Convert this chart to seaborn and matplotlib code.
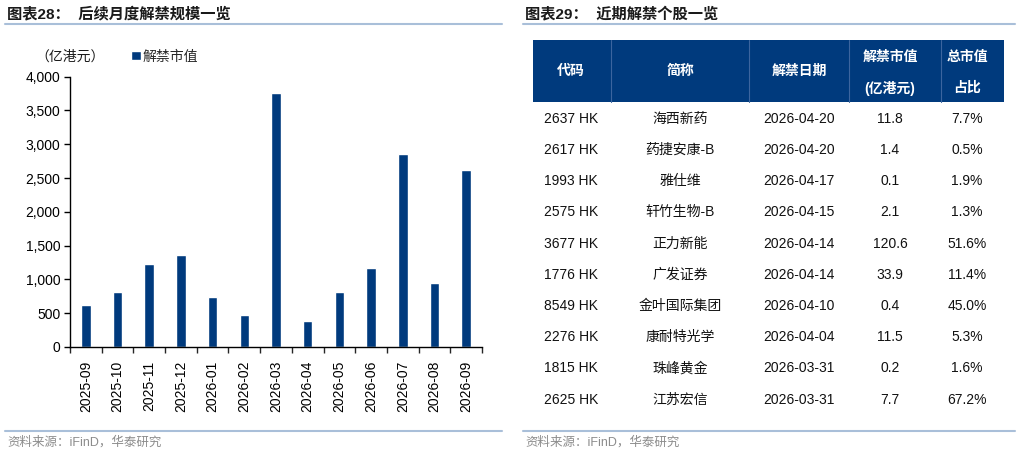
import numpy as np
import pandas as pd
import matplotlib
matplotlib.use("Agg")
import matplotlib.pyplot as plt
import seaborn as sns
from matplotlib.patches import Rectangle
from matplotlib.lines import Line2D

sns.set_theme(style="white")
plt.rcParams['font.family'] = ['Liberation Sans', 'Noto Sans CJK SC', 'DejaVu Sans']

# ---- data: monthly unlock scale ----
months = ['2025-09', '2025-10', '2025-11', '2025-12', '2026-01', '2026-02', '2026-03',
          '2026-04', '2026-05', '2026-06', '2026-07', '2026-08', '2026-09']
unlock_value = [627, 820, 1223, 1367, 745, 469, 3757, 380, 814, 1164, 2861, 952, 2624]

# ---- data: recent unlock stocks ----
codes = ['2637 HK', '2617 HK', '1993 HK', '2575 HK', '3677 HK',
         '1776 HK', '8549 HK', '2276 HK', '1815 HK', '2625 HK']
names = ['海西新药', '药捷安康-B', '雅仕维', '轩竹生物-B', '正力新能',
         '广发证券', '金叶国际集团', '康耐特光学', '珠峰黄金', '江苏宏信']
dates = ['2026-04-20', '2026-04-20', '2026-04-17', '2026-04-15', '2026-04-14',
         '2026-04-14', '2026-04-10', '2026-04-04', '2026-03-31', '2026-03-31']
unlock_mv = ['11.8', '1.4', '0.1', '2.1', '120.6', '33.9', '0.4', '11.5', '0.2', '7.7']
mv_share = ['7.7%', '0.5%', '1.9%', '1.3%', '51.6%', '11.4%', '45.0%', '5.3%', '1.6%', '67.2%']
headers = ['代码', '简称', '解禁日期', '解禁市值\n(亿港元)', '总市值\n占比']

NAVY = '#003A7D'
RULE = '#A9BFD9'
W, H = 1020, 455

fig = plt.figure(figsize=(W / 100, H / 100), dpi=100)


def fx(px):
    return px / W


def fy(py):
    return 1 - py / H


# titles, rules, footers
fig.text(fx(7), fy(14), '图表28：  后续月度解禁规模一览', fontsize=11, fontweight='bold',
         color='#1a1a1a', va='center', ha='left')
fig.text(fx(525), fy(14), '图表29：  近期解禁个股一览', fontsize=11, fontweight='bold',
         color='#1a1a1a', va='center', ha='left')
for x0, x1 in [(5, 502), (523, 1015)]:
    fig.add_artist(Line2D([fx(x0), fx(x1)], [fy(24), fy(24)], color=RULE, lw=1.5))
    fig.add_artist(Line2D([fx(x0), fx(x1)], [fy(431), fy(431)], color=RULE, lw=1.5))
fig.text(fx(7), fy(442), '资料来源：iFinD，华泰研究', fontsize=9, color='#8c8c8c',
         va='center', ha='left')
fig.text(fx(525), fy(442), '资料来源：iFinD，华泰研究', fontsize=9, color='#8c8c8c',
         va='center', ha='left')

# ---- left: bar chart ----
df = pd.DataFrame({'month': months, 'value': unlock_value})
ax = fig.add_axes([fx(70), fy(347), fx(482) - fx(70), fy(76.7) - fy(347)])
sns.barplot(data=df, x='month', y='value', color=NAVY, width=0.3, saturation=1,
            label='解禁市值', ax=ax)
ax.set_ylim(0, 4000)
ax.set_xlim(-0.5, len(months) - 0.5)
ax.set_yticks(np.arange(0, 4001, 500))
ax.yaxis.set_major_formatter(matplotlib.ticker.StrMethodFormatter('{x:,.0f}'))
ax.set_xlabel('')
ax.set_ylabel('')
for s in ['top', 'right']:
    ax.spines[s].set_visible(False)
for s in ['left', 'bottom']:
    ax.spines[s].set_color('black')
    ax.spines[s].set_linewidth(1.0)
ax.tick_params(axis='y', left=True, direction='out', length=4, width=1, labelsize=10,
               colors='black', pad=3)
ax.tick_params(axis='x', which='major', bottom=False, labelsize=10, labelrotation=90, pad=4)
ax.set_xticks(np.arange(-0.5, len(months), 1), minor=True)
ax.tick_params(axis='x', which='minor', bottom=True, direction='out', length=4, width=1)
for lab in ax.get_xticklabels():
    lab.set_color('black')
ax.grid(False)
leg = ax.legend(loc='center left',
                bbox_to_anchor=(fx(222) - fx(70), (fy(57) - fy(347)) / (fy(76.7) - fy(347))),
                bbox_transform=ax.transAxes, frameon=False, fontsize=10, handlelength=0.55,
                handleheight=0.55, handletextpad=0.25, borderaxespad=0, borderpad=0)
for hd in leg.legend_handles:
    hd.set_height(7)
    hd.set_width(7)
fig.text(fx(35), fy(57), '（亿港元）', fontsize=10, color='#1a1a1a', va='center', ha='left')

# ---- right: table ----
tx0, tx1, ty0, ty1 = 533, 1004, 40, 415
tax = fig.add_axes([fx(tx0), fy(ty1), fx(tx1) - fx(tx0), fy(ty0) - fy(ty1)])
tax.set_xlim(tx0, tx1)
tax.set_ylim(ty1, ty0)
tax.axis('off')

col_centers = [571, 680, 799, 890, 967]
col_edges = [610.7, 749, 849, 940.7]
head_top, head_bot = 40, 102
tax.add_patch(Rectangle((tx0, head_top), tx1 - tx0, head_bot - head_top,
                        facecolor=NAVY, edgecolor='none'))
for xe in col_edges:
    tax.plot([xe, xe], [head_top, head_bot], color='#3C659F', lw=0.8)
for xc, h in zip(col_centers, headers):
    if '\n' in h:
        l1, l2 = h.split('\n')
        tax.text(xc, 57, l1, color='white', fontsize=10, fontweight='bold', ha='center', va='center')
        tax.text(xc, 88, l2, color='white', fontsize=10, fontweight='bold', ha='center', va='center')
    else:
        tax.text(xc, 71, h, color='white', fontsize=10, fontweight='bold', ha='center', va='center')

row_y0, row_step = 118.7, 31.2
columns = [codes, names, dates, unlock_mv, mv_share]
for j, col in enumerate(columns):
    for i, val in enumerate(col):
        tax.text(col_centers[j], row_y0 + i * row_step, val, fontsize=10, color='#111111',
                 ha='center', va='center')

fig.savefig('out.png', dpi=100)
